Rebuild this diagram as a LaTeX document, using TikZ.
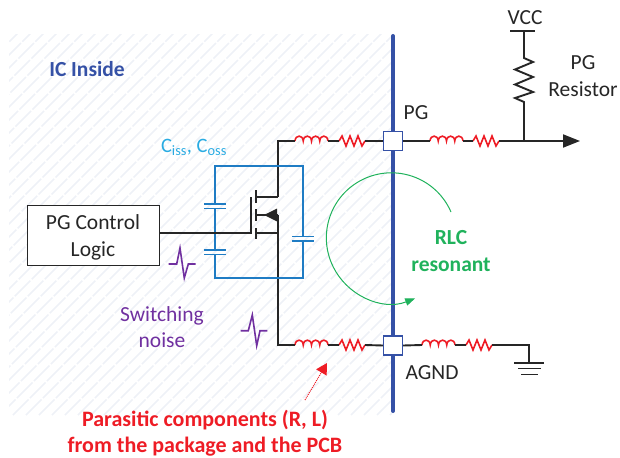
\documentclass[tikz,border=0pt]{standalone}
\usepackage{fontspec}
\setmainfont{Carlito}
\usetikzlibrary{arrows.meta}
\definecolor{icblue}{HTML}{3551A6}
\definecolor{capblue}{HTML}{1F7CC4}
\definecolor{cyantxt}{HTML}{29ABE2}
\definecolor{rlcgreen}{HTML}{20B25C}
\definecolor{noisepurple}{HTML}{7030A0}
\definecolor{parared}{HTML}{EE1C25}
\definecolor{wirek}{HTML}{262626}
\definecolor{hatch}{HTML}{EEF1F7}
\tikzset{
  wire/.style={draw=wirek,line width=1.9pt},
  capwire/.style={draw=capblue,line width=1.7pt},
  part/.style={draw=parared,line width=1.6pt},
  noise/.style={draw=noisepurple,line width=1.6pt,line join=miter},
  pad/.style={draw=icblue,fill=white,line width=1.2pt,minimum size=19pt,inner sep=0pt},
  lab/.style={text=wirek,font=\fontsize{21.5}{27}\selectfont,align=center,inner sep=0pt},
  bolded/.style={font=\fontsize{22}{26.5}\selectfont\bfseries,align=center,inner sep=0pt}
}
% inductor: name, x, y (33 wide)
\newcommand{\coilpart}[3]{%
  \coordinate (#1a) at (#2,#3);
  \coordinate (#1b) at (#2+33,#3);
  \draw[part] (#1a) \foreach \k in {0,1,2,3}{ .. controls (#2+\k*8.25+0.5,#3-6.5) and (#2+\k*8.25+7.75,#3-6.5) .. (#2+\k*8.25+8.25,#3) };
}
% resistor: name, x, y (26 wide)
\newcommand{\zigpart}[3]{%
  \coordinate (#1a) at (#2,#3);
  \coordinate (#1b) at (#2+26,#3);
  \draw[part] (#1a) -- (#2+3,#3-5) -- (#2+7,#3+5) -- (#2+11,#3-5) -- (#2+15,#3+5) -- (#2+19,#3-5) -- (#2+23,#3+5) -- (#1b);
}
\newcommand{\capv}[4]{% name, x, y of upper plate, half width; gap 5
  \coordinate (#1t) at (#2,#3);
  \coordinate (#1b) at (#2,#3+4.5);
  \draw[capwire] (#2-#4,#3) -- (#2+#4,#3) (#2-#4,#3+4.5) -- (#2+#4,#3+4.5);
}
\begin{document}
\begin{tikzpicture}[x=1pt,y=-1pt]
\useasboundingbox (0,0) rectangle (620,457);
% hatched IC area
\begin{scope}
  \clip (9,35) rectangle (392,415);
  \foreach \d in {0,13,...,780}{
    \draw[hatch,line width=1.6pt,dash pattern=on 22pt off 2pt] (\d-390,415) -- (\d,25);
  }
\end{scope}
% package wall
\coordinate (walltop) at (393,36);
\coordinate (wallbot) at (393,411);
\draw[icblue,line width=4pt,line cap=round] (walltop) -- (wallbot);
% parts
\coilpart{la}{295}{141}
\zigpart{ra}{339}{141}
\coilpart{lb}{430}{141}
\zigpart{rb}{473}{141}
\coilpart{lc}{295}{345}
\zigpart{rc}{339}{345}
\coilpart{ld}{422}{345}
\zigpart{rd}{466}{345}
\node[pad] (pg) at (393,141) {};
\node[pad] (agnd) at (393,345.5) {};
% wires top
\coordinate (drainup) at (278,141);
\coordinate (drain) at (278,197);
\coordinate (body) at (278,215);
\coordinate (source) at (278,233);
\coordinate (srcdown) at (278,345);
\coordinate (junc) at (524,141);
\coordinate (out) at (580,141);
\draw[wire] (drain) -- (drainup) -- (laa);
\draw[wire] (lab) -- (raa);
\draw[wire] (rab) -- (pg.west);
\draw[wire] (pg.east) -- (lba);
\draw[wire] (lbb) -- (rba);
\draw[wire] (rbb) -- (junc);
\draw[wire,-{Triangle[length=17pt,width=13pt]}] (junc) -- (out);
% pull-up
\coordinate (vcc) at (524,31);
\coordinate (rt) at (524,58);
\coordinate (rb) at (524,102);
\draw[wire,line join=miter] (vcc) -- (rt) -- (533,62) -- (515,69.5) -- (533,77) -- (515,84.5) -- (533,92) -- (515,98) -- (rb) -- (junc);
\draw[wire] (510,31) -- (535,31);
% wires bottom
\draw[wire] (body) -- (srcdown) -- (lca);
\draw[wire] (lcb) -- (rca);
\draw[wire] (rcb) -- (agnd.west);
\draw[wire] (agnd.east) -- (lda);
\draw[wire] (ldb) -- (rda);
\coordinate (gndt) at (529,345);
\coordinate (gnd) at (529,363);
\draw[wire] (rdb) -- (gndt) -- (gnd);
\draw[wire] (514,363) -- (544,363) (518,368.5) -- (541,368.5) (521,374.5) -- (538,374.5);
% control box
\node[draw=wirek,line width=1pt,fill=white,minimum width=132pt,minimum height=60pt,inner sep=0pt] (ctl) at (93,235) {};
\node[lab] (ctltxt) at (93,237) {PG Control\\Logic};
% blue capacitor loop
\capv{c1}{215}{204}{11}
\capv{c2}{215}{250}{11}
\capv{c3}{303}{236.5}{11}
\coordinate (bl) at (215,278);
\coordinate (tl) at (215,166);
\coordinate (tr) at (303,166);
\coordinate (br) at (303,278);
\draw[capwire] (c1t) -- (tl) -- (tr) -- (c3t);
\draw[capwire] (c3b) -- (br) -- (bl) -- (c2b);
\draw[capwire] (c1b) -- (c2t);
% MOSFET
\coordinate (gate) at (251,233);
\draw[wire] (ctl.east |- gate) -- (gate) -- (251,197);
\draw[wire,line width=2.4pt] (256,190) -- (256,203) (256,209) -- (256,221) (256,228) -- (256,239);
\draw[wire] (256,197) -- (drain) (256,233) -- (source) (256,215) -- (body);
\fill[wirek] (264,215) -- (277,208.5) -- (277,221.5) -- cycle;
% green arc
\draw[rlcgreen,line width=1pt,-{Triangle[length=10pt,width=7.5pt]}] (451,212) arc[start angle=-23.4,end angle=-291.5,radius=65];
% text
\node[text=icblue,bolded,font=\fontsize{21.5}{26}\selectfont\bfseries] (ic) at (87,69) {IC Inside};
\node[text=cyantxt,inner sep=0pt,font=\fontsize{20.5}{24}\selectfont] (ciss) at (194,147) {C\textsubscript{iss}, C\textsubscript{oss}};
\node[lab] (pglab) at (416,113) {PG};
\node[lab] (agndlab) at (432,373) {AGND};
\node[lab] (vcclab) at (525,18) {VCC};
\node[lab] (pgres) at (583,76) {PG\\Resistor};
\node[text=rlcgreen,bolded,font=\fontsize{21.5}{26.5}\selectfont\bfseries] (rlc) at (451,251) {RLC\\resonant};
\node[text=noisepurple,inner sep=0pt,align=center,font=\fontsize{21.5}{26.5}\selectfont] (sw) at (162,327) {Switching\\noise};
\node[text=parared,bolded] (par) at (205,433) {Parasitic components (R, L)\\from the package and the PCB};
% noise glyphs
\draw[noise] (168.7,264) -- (176.7,264) -- (180,248) -- (184.3,278) -- (188.3,264) -- (195.7,264);
\draw[noise] (240.7,330.7) -- (248.3,330.7) -- (252.3,315) -- (256.7,345.7) -- (260,330.7) -- (267.3,330.7);
% pointer
\coordinate (ptrs) at (305,400);
\coordinate (ptre) at (327,363);
\draw[parared,line width=1pt,densely dotted,-{Triangle[length=11pt,width=12pt]}] (ptrs) -- (ptre);
\end{tikzpicture}
\end{document}
